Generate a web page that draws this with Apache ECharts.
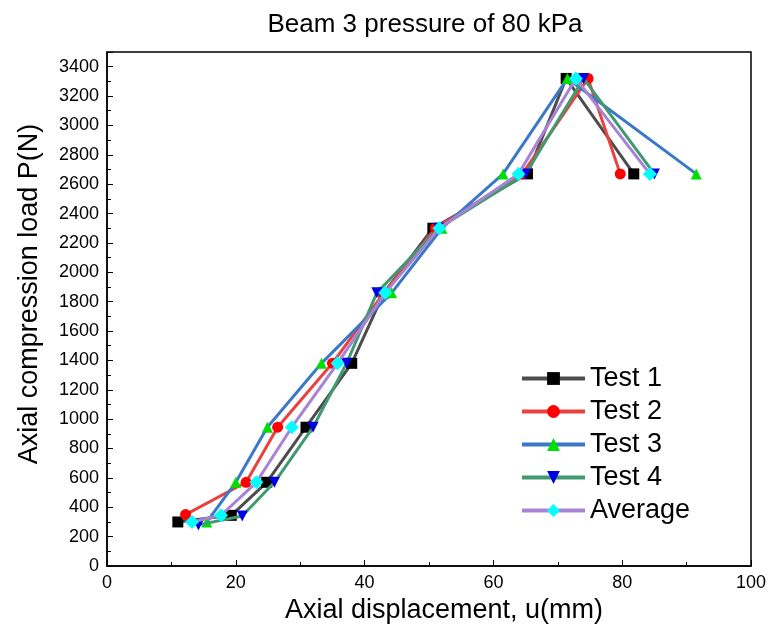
<!DOCTYPE html>
<html lang="en">
<head>
  <meta charset="UTF-8" />
  <title>Beam 3 pressure of 80 kPa</title>
  <script src="https://cdn.jsdelivr.net/npm/echarts/dist/echarts.min.js"></script>
  <style>
    body { margin: 0; padding: 0; background: #fff; }
    #chart { width: 769px; height: 631px; }
  </style>
</head>
<body>
<div id="chart"></div>
<script>
  // [displacement (mm), load (N)]
  const test1 = [[11, 300], [19.3, 345], [24.8, 570], [30.9, 945], [38, 1380], [43, 1860], [50.6, 2300], [65.3, 2670], [71.3, 3320], [81.8, 2670]];
  const test2 = [[12.2, 350], [21.6, 570], [26.5, 945], [35, 1380], [43, 1860], [51, 2300], [64.5, 2670], [74.7, 3320], [79.7, 2670]];
  const test3 = [[15.5, 300], [20, 570], [24.9, 945], [33.3, 1380], [44.2, 1860], [52, 2300], [61.5, 2670], [71.5, 3320], [91.5, 2670]];
  const test4 = [[14.2, 280], [21, 340], [26, 570], [32, 945], [37.2, 1380], [41.9, 1860], [51.5, 2300], [65, 2670], [74, 3320], [85, 2670]];
  const average = [[13.2, 300], [17.7, 345], [23.2, 570], [28.7, 945], [35.8, 1380], [43.2, 1860], [51.6, 2300], [63.9, 2670], [72.8, 3320], [84.3, 2670]];

  const seriesNames = ["Test 1", "Test 2", "Test 3", "Test 4", "Average"];
  const seriesData = [test1, test2, test3, test4, average];
  const lineColors = ["#4d4d4d", "#e8413f", "#3a78c8", "#3f9a72", "#a783d6"];
  const markColors = ["#000000", "#ff0000", "#00e000", "#0000e6", "#00ffff"];
  const symbols = ["rect", "circle", "triangle", "triangle", "diamond"];
  const rotates = [0, 0, 0, 180, 0];

  const font = "Liberation Sans, Arial, sans-serif";
  const chart = echarts.init(document.getElementById("chart"));

  const series = seriesNames.map((name, i) => ({
    name: name,
    type: "line",
    data: seriesData[i],
    symbol: symbols[i],
    symbolRotate: rotates[i],
    symbolSize: symbols[i] === "diamond" ? 14 : 11,
    lineStyle: { color: lineColors[i], width: 3 },
    itemStyle: { color: markColors[i] },
    z: 2 + i
  }));

  chart.setOption({
    animation: false,
    title: {
      text: "Beam 3 pressure of 80 kPa",
      left: 420, top: 7, textAlign: "center",
      textStyle: { fontFamily: font, fontSize: 26, fontWeight: "normal", color: "#000" }
    },
    legend: {
      orient: "vertical",
      left: 515, top: 360,
      itemWidth: 63, itemHeight: 16, itemGap: 6,
      lineStyle: { width: 4 },
      textStyle: { fontFamily: font, fontSize: 27, color: "#000" },
      data: seriesNames
    },
    grid: {
      left: 107, right: 13, top: 52, bottom: 65,
      show: true, borderColor: "#000", borderWidth: 1.5
    },
    xAxis: {
      type: "value", min: 0, max: 100, interval: 20,
      name: "Axial displacement, u(mm)",
      nameLocation: "middle", nameGap: 28,
      nameTextStyle: { fontFamily: font, fontSize: 27, color: "#000", padding: [0, 0, 0, 30] },
      axisLine: { lineStyle: { color: "#000", width: 1.5 } },
      axisTick: { inside: true, length: 6, lineStyle: { color: "#000" } },
      minorTick: { show: true, splitNumber: 2, length: 4, lineStyle: { color: "#000" } },
      axisLabel: { fontFamily: font, fontSize: 18, color: "#000", margin: 8 },
      splitLine: { show: false }
    },
    yAxis: {
      type: "value", min: 0, max: 3500, interval: 200,
      name: "Axial compression load P(N)",
      nameLocation: "middle", nameGap: 64,
      nameTextStyle: { fontFamily: font, fontSize: 27, color: "#000", padding: [0, 0, 0, 30] },
      axisLine: { lineStyle: { color: "#000", width: 1.5 } },
      axisTick: { inside: true, length: 6, lineStyle: { color: "#000" } },
      minorTick: { show: true, splitNumber: 2, length: 4, lineStyle: { color: "#000" } },
      axisLabel: {
        fontFamily: font, fontSize: 18, color: "#000", margin: 8, showMaxLabel: false,
        formatter: v => String(v)
      },
      splitLine: { show: false }
    },
    series: series
  });
</script>
</body>
</html>
